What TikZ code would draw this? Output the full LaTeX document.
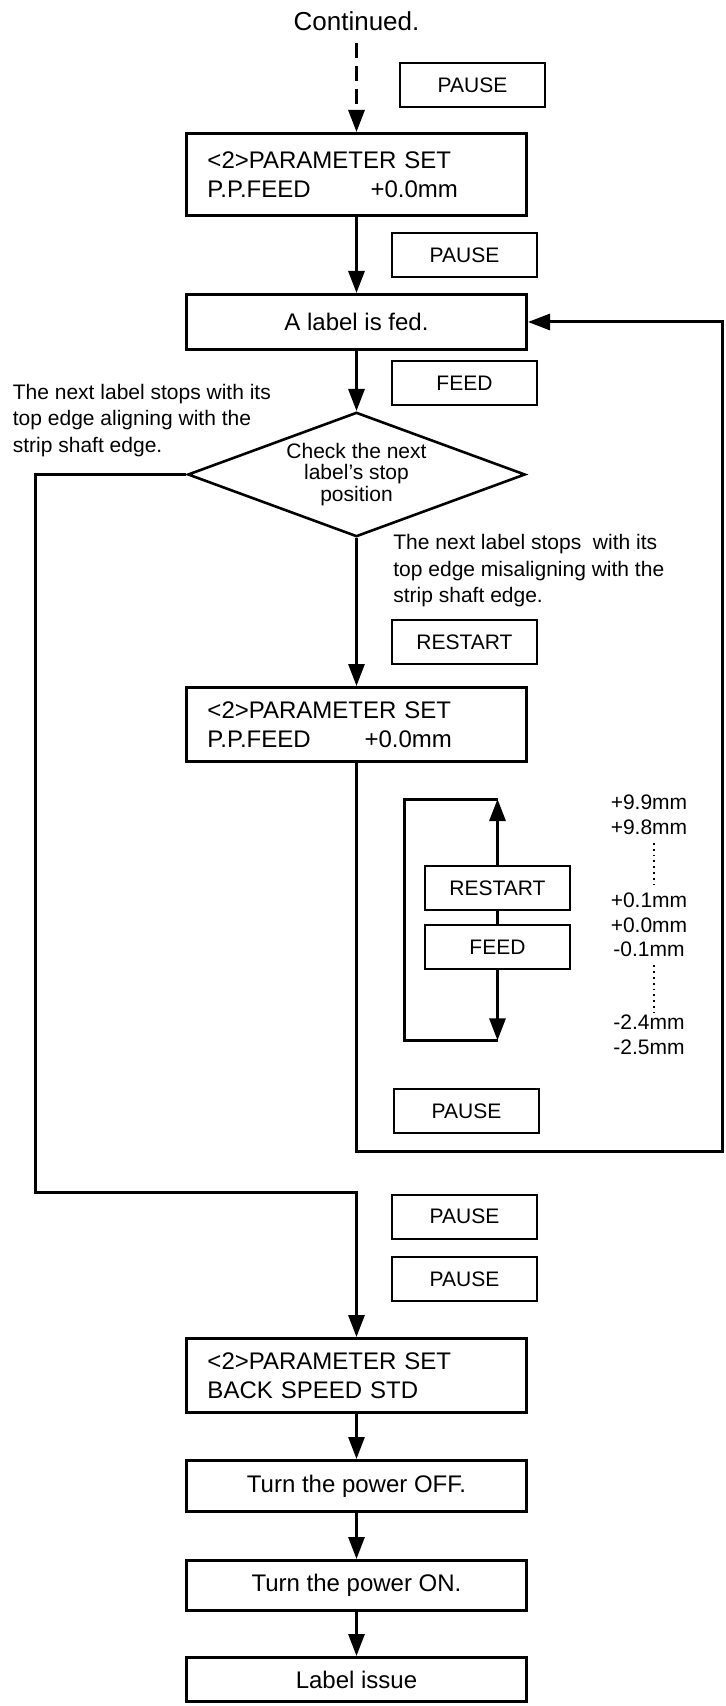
\documentclass[tikz,border=0pt]{standalone}
\usepackage{fontspec}
\setmainfont{Liberation Sans}
\usetikzlibrary{positioning,arrows.meta,shapes.geometric}

\begin{document}
\begin{tikzpicture}[
  every node/.style={font=\fontsize{12}{14.5}\selectfont},
  main/.style={draw, line width=1.5pt, minimum width=170pt, align=center},
  lcd/.style={main, text width=149pt, align=left},
  key/.style={draw, line width=1.1pt, minimum width=72.4pt, minimum height=22pt, font=\fontsize{10.5}{12}\selectfont},
  check/.style={draw, diamond, aspect=2.68, line width=1.3pt, minimum width=168.7pt, minimum height=62.2pt, inner sep=0pt, align=center, font=\fontsize{10.5}{10.75}\selectfont},
  note/.style={inner sep=0pt, align=left, font=\fontsize{10.5}{13.25}\selectfont},
  val/.style={inner sep=0pt, text height=7.6pt, text depth=0pt, font=\fontsize{10.5}{12}\selectfont},
  arrow/.style={-{Triangle[length=11pt, width=8pt]}, line width=1.5pt},
  line/.style={line width=1.5pt}
]
\useasboundingbox (-178.25pt,87.25pt) rectangle (184.25pt,-765.75pt);

% Main chain
\node[lcd, minimum height=41pt] (p1) at (0,0) {<2>PARAMETER SET\\\makebox[81.5pt][l]{P.P.FEED}+0.0mm};
\node[font=\fontsize{13}{15}\selectfont] (cont) at ([yshift=55.5pt]p1.north) {Continued.};
\node[main, minimum height=27.5pt, below=38pt of p1] (fed) {A label is fed.};
\node[check, below=30pt of fed] (chk) {Check the next\\label's stop\\position};
\node[lcd, minimum height=37pt, below=74pt of chk] (p2) {<2>PARAMETER SET\\\makebox[78.5pt][l]{P.P.FEED}+0.0mm};
\node[lcd, minimum height=37pt, below=287pt of p2] (p3) {<2>PARAMETER SET\\BACK SPEED STD};
\node[main, minimum height=25.5pt, below=22.5pt of p3] (off) {Turn the power OFF.};
\node[main, minimum height=25pt, below=23pt of off] (on) {Turn the power ON.};
\node[main, minimum height=22pt, below=22pt of on] (iss) {Label issue};

% Keys
\node[key, above right=12pt and 21.25pt of p1.north] (k1) {PAUSE};
\node[key, below right=7.5pt and 17.25pt of p1.south] (k2) {PAUSE};
\node[key, below right=4.5pt and 17.25pt of fed.south] (k3) {FEED};
\node[key, above right=10.5pt and 17.25pt of p2.north] (k4) {RESTART};
\node[key, below right=51pt and 33.75pt of p2.south] (k5) {RESTART};
\node[key, below=6.5pt of k5] (k6) {FEED};
\node[key, below right=162.5pt and 18.25pt of p2.south] (k7) {PAUSE};
\node[key, above right=17.5pt and 17.25pt of p3.north] (k9) {PAUSE};
\node[key, above=8pt of k9] (k8) {PAUSE};

% Branch notes
\node[note, anchor=north west] (yes) at ([shift={(-87pt,45.5pt)}]chk.west) {The next label stops with its\\top edge aligning with the\\strip shaft edge.};
\node[note, anchor=north west] (no) at ([shift={(18.25pt,2pt)}]chk.south) {The next label stops~ with its\\top edge misaligning with the\\strip shaft edge.};

% Adjustment range
\node[val] (v1) at ([shift={(39pt,43pt)}]k5.east) {+9.9mm};
\node[val, below=4.4pt of v1] (v2) {+9.8mm};
\node[val, below=28.4pt of v2] (v3) {+0.1mm};
\node[val, below=4.4pt of v3] (v4) {+0.0mm};
\node[val, below=4.4pt of v4] (v5) {-0.1mm};
\node[val, below=28.4pt of v5] (v6) {-2.4mm};
\node[val, below=4.4pt of v6] (v7) {-2.5mm};
\draw[dotted, line width=0.9pt] ([xshift=2.5pt, yshift=-4pt]v2.south) -- ([xshift=2.5pt, yshift=1.5pt]v3.north);
\draw[dotted, line width=0.9pt] ([xshift=2.5pt, yshift=-4pt]v5.south) -- ([xshift=2.5pt, yshift=0.5pt]v6.north);

% Arrows - main chain
\draw[arrow, dash pattern=on 7.5pt off 4pt, shorten <=2.5pt] (cont) -- (p1);
\draw[arrow] (p1) -- (fed);
\draw[arrow] (fed) -- (chk);
\draw[arrow] (chk) -- (p2);
\draw[arrow] (p3) -- (off);
\draw[arrow] (off) -- (on);
\draw[arrow] (on) -- (iss);

% Loops
\draw[arrow] (chk.west) -- ++(-75.5pt,0) -- ++(0,-359pt) -| (p3.north);
\draw[arrow] (p2.south) -- ++(0,-194pt) -| ([xshift=97pt]fed.east) -- (fed.east);

\coordinate (up) at ([yshift=33pt]k5.north);
\coordinate (dn) at ([yshift=-35pt]k6.south);
\draw[arrow] (k5) -- (up);
\draw[arrow] (k6) -- (dn);
\draw[line] (k5) -- (k6);
\draw[line] (up) -- ++(-46.5pt,0) |- (dn);

\end{tikzpicture}
\end{document}
